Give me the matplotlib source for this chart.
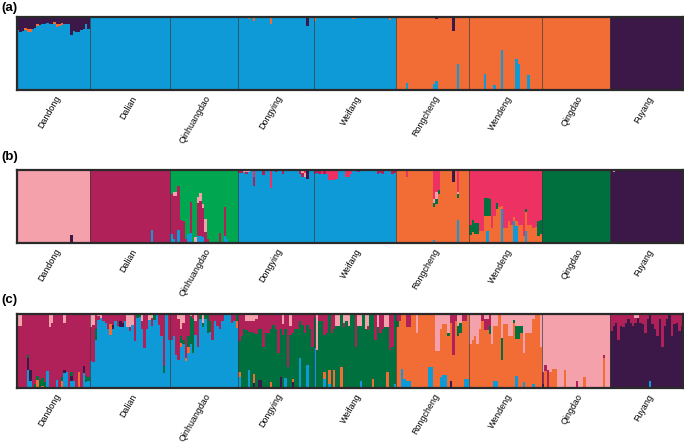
import numpy as np
import matplotlib
matplotlib.use("Agg")
import matplotlib.pyplot as plt

plt.rcParams['font.family'] = ['Liberation Sans', 'DejaVu Sans']

pops = ["Dandong", "Dalian", "Qinhuangdao", "Dongying", "Weifang",
        "Rongcheng", "Wendeng", "Qingdao", "Fuyang"]
n_ind = [30, 33, 28, 31, 34, 30, 30, 28, 30]

colors = {
    "B": "#0E9AD7",   # blue
    "O": "#F26C35",   # orange
    "P": "#3B1847",   # dark purple
    "LP": "#F4A1AC",  # light pink
    "M": "#B0215A",   # maroon
    "G": "#00A650",   # green
    "DG": "#00703E",  # dark green
    "HP": "#EE3163",  # hot pink
}

# ---------- panel (a), K = 3 ----------
order_a = ["B", "O", "P"]
main_a = ["B", "B", "B", "B", "B", "O", "O", "O", "P"]
mix_a = {
    "Dandong": {
        "P": [0.18, 0.21, 0.19, 0.15, 0.16, 0.17, 0.17, 0.15, 0.10, 0.11,
              0.10, 0.09, 0.08, 0.09, 0.10, 0.07, 0.10, 0.09, 0.08, 0.10,
              0.09, 0.10, 0.25, 0.19, 0.20, 0.20, 0.18, 0.16, 0.09, 0.16],
        "O": {3: .03, 4: .04, 5: .03, 8: .03, 15: .03, 16: .04, 17: .04, 18: .03},
    },
    "Dongying": {"O": {4: .03, 6: .06, 13: .10}, "P": {28: .13}},
    "Weifang": {"O": {0: .05, 10: .02, 16: .03, 24: .02, 31: .04}},
    "Rongcheng": {"B": {4: .09, 15: .08, 16: .13, 25: .35}, "P": {16: .03, 23: .19}},
    "Wendeng": {"B": {6: .22, 10: .07, 13: .55, 19: .42, 20: .35, 24: .2}},
}

# ---------- panel (b), K = 8 ----------
order_b = ["B", "O", "P", "DG", "M", "LP", "G", "HP"]
main_b = ["LP", "M", "G", "B", "B", "O", "HP", "DG", "P"]
mix_b = {
    "Dandong": {"P": {22: .11}},
    "Dalian": {"B": {25: .18}},
    "Qinhuangdao": {
        "B": {0: .12, 1: .05, 3: .18, 7: .13, 8: .14, 11: .1, 12: .1, 13: .08, 22: .09, 23: .06},
        "M": {0: .55, 1: .6, 2: .65, 3: .6, 4: .32, 5: .3, 6: .06, 8: .42, 11: .45,
              12: .48, 13: .4, 14: .15, 15: .05, 20: .14, 22: .4},
        "LP": {1: .05, 2: .05, 10: .08, 11: .08, 12: .1, 13: .06, 14: .18},
    },
    "Dongying": {
        "M": {0: .04, 1: .04, 3: .03, 6: .12, 10: .07, 15: .03, 18: .05, 21: .02, 25: .05, 26: .06},
        "LP": {2: .03, 3: .03, 4: .03, 26: .04, 27: .05},
        "HP": {6: .1, 13: .24, 27: .04},
        "P": {28: .12},
    },
    "Weifang": {
        "M": {0: .05, 1: .04, 2: .06, 4: .05, 18: .03, 26: .05, 27: .04, 28: .05, 32: .06, 33: .04},
        "HP": {3: .06, 5: .05, 6: .14, 7: .14, 8: .14, 9: .12, 13: .1, 14: .1, 15: .06},
    },
    "Rongcheng": {
        "B": {15: .04, 25: .32},
        "P": {23: .17},
        "DG": {15: .06, 16: .07, 17: .05, 25: .06},
        "LP": {15: .05, 16: .1, 25: .03},
        "HP": {4: .1, 15: .4, 16: .3, 17: .28, 25: .3},
    },
    "Wendeng": {
        "O": {0: .11, 1: .15, 2: .13, 3: .13, 4: .16, 5: .16, 6: .37, 7: .2, 8: .37, 9: .2,
              10: .37, 11: .46, 12: .5, 13: .05, 14: .2, 15: .2, 16: .3, 17: .25, 18: .05,
              19: .07, 20: .25, 21: .25, 22: .1, 23: .26, 24: .25, 25: .25, 26: .2,
              27: .22, 28: .1, 29: .12},
        "DG": {0: .14, 1: .16, 2: .14, 3: .14, 6: .25, 7: .25, 8: .23, 11: .09, 23: .05,
               28: .2, 29: .2},
        "B": {7: .17, 13: .46, 18: .3, 19: .23, 23: .16},
    },
    "Fuyang": {"LP": {1: .03}},
}

# ---------- panel (c), K = 6 ----------
order_c = ["B", "P", "O", "DG", "M", "LP"]
main_c = ["M", "B", "B", "DG", "DG", "O", "O", "LP", "P"]
mix_c = {
    "Dandong": {
        "LP": {0: .16, 1: .16, 13: .18, 14: .12, 19: .12},
        "B": {4: .24, 5: .1, 12: .23, 16: .11, 19: .2, 20: .22, 22: .1, 23: .1, 27: .2, 28: .08, 29: .1},
        "P": {4: .16, 5: .15, 19: .05, 22: .06, 27: .1},
        "DG": {4: .05, 7: .06, 8: .05, 9: .11, 10: .1, 11: .08, 18: .05, 22: .06, 28: .08, 29: .05},
        "O": {8: .11, 10: .03, 18: .1, 25: .22},
    },
    "Dalian": {
        "LP": {0: .18, 1: .15, 3: .03, 4: .05, 15: .18, 16: .18, 17: .15, 21: .1, 24: .08, 25: .06},
        "M": {0: .46, 1: .5, 2: .2, 3: .05, 5: .1, 6: .12, 7: .2, 8: .14, 9: .15, 10: .1,
              11: .16, 12: .1, 13: .12, 14: .1, 16: .05, 18: .37, 21: .1, 22: .46, 23: .2,
              25: .1, 28: .15, 29: .3, 30: .7, 32: .35},
        "DG": {2: .15, 19: .06, 20: .04, 26: .08, 30: .1},
        "O": {8: .14},
        "P": {9: .05, 12: .07, 13: .06},
    },
    "Qinhuangdao": {
        "M": {0: .35, 1: .3, 2: .55, 3: .55, 4: .1, 5: .23, 6: .6, 7: .3, 9: .07, 10: .2,
              11: .45, 16: .1, 17: .35, 18: .1, 19: .16, 20: .2, 21: .1, 25: .12, 26: .1},
        "LP": {3: .07, 4: .2, 5: .12, 8: .03, 10: .09, 13: .12},
        "DG": {4: .09, 5: .05, 7: .14, 8: .37, 9: .46, 12: .07, 13: .05, 14: .07, 15: .25,
               16: .14, 27: .1},
        "O": {4: .05, 6: .04, 7: .09, 27: .09},
    },
    "Dongying": {
        "M": {0: .37, 1: .3, 2: .2, 3: .12, 4: .15, 5: .15, 6: .16, 7: .2, 8: .2, 9: .2,
              10: .44, 11: .25, 12: .25, 13: .2, 14: .15, 15: .2, 16: .53, 17: .2, 18: .15,
              19: .2, 20: .71, 21: .12, 22: .25, 23: .2, 24: .2, 25: .1, 26: .15, 27: .25,
              28: .15, 29: .2, 30: .44},
        "LP": {3: .09, 4: .09, 5: .09, 6: .09, 7: .07, 18: .14, 21: .16},
        "B": {0: .15, 4: .24, 19: .13, 25: .4, 28: .31},
        "O": {0: .07, 6: .12, 13: .08, 22: .04},
        "P": {6: .07, 8: .11, 9: .11, 17: .15, 22: .08},
    },
    "Weifang": {
        "B": {0: .54, 4: .12, 6: .05, 19: .1, 33: .05},
        "LP": {1: .48, 9: .16, 10: .16, 12: .12, 13: .1, 14: .16, 18: .16, 19: .16, 21: .2,
               22: .16, 26: .18, 29: .18, 30: .18},
        "M": {0: .05, 2: .1, 3: .1, 4: .28, 5: .25, 7: .25, 8: .2, 12: .05, 17: .44, 22: .05,
              25: .35, 27: .25, 28: .2, 31: .48, 32: .45},
        "O": {4: .1, 6: .2, 8: .24, 11: .29, 24: .12, 30: .22},
    },
    "Rongcheng": {
        "DG": {0: .07, 21: .05, 25: .14, 26: .14},
        "M": {0: .1, 1: .1, 4: .18, 5: .18, 22: .12, 23: .55, 24: .1, 27: .1, 28: .1},
        "B": {2: .26, 3: .12, 4: .1, 5: .1, 13: .28, 14: .28, 18: .15, 19: .18, 20: .18,
              28: .12, 29: .12},
        "LP": {8: .25, 16: .5, 17: .5, 18: .2, 19: .14, 20: .14, 21: .25, 25: .16, 26: .12},
        "P": {22: .09},
    },
    "Wendeng": {
        "LP": {0: .4, 1: .35, 2: .3, 3: .4, 4: .2, 6: .07, 7: .07, 9: .4, 10: .16, 11: .16,
               13: .32, 14: .14, 15: .14, 16: .3, 17: .3, 18: .08, 19: .16, 20: .16, 21: .16,
               22: .53, 23: .25, 24: .25, 25: .25, 26: .07, 29: .45},
        "M": {5: .1, 6: .14, 7: .14, 8: .16},
        "DG": {8: .11, 13: .3, 18: .04, 19: .18, 20: .18, 21: .1},
        "B": {10: .1, 11: .1, 19: .16, 22: .08, 26: .06},
    },
    "Qingdao": {
        "M": {0: .16, 1: .08, 2: .24, 14: .1, 25: .05},
        "P": {0: .06},
        "O": {1: .23, 3: .22, 4: .26, 5: .26, 9: .24, 17: .15, 25: .4},
    },
    "Fuyang": {
        "M": {0: .23, 1: .16, 2: .12, 3: .35, 4: .16, 5: .18, 6: .12, 7: .07, 8: .12, 9: .16,
              10: .07, 12: .12, 13: .14, 14: .25, 15: .07, 17: .14, 18: .2, 19: .3, 20: .07,
              21: .44, 22: .16, 23: .07, 24: .02, 25: .3, 26: .14, 27: .12, 28: .23, 29: .16},
        "LP": {10: .05, 11: .06},
        "B": {16: .1},
    },
}


def build_q(order, main, mix):
    blocks = []
    for pop, n, dom in zip(pops, n_ind, main):
        q = np.zeros((n, len(order)))
        for cl, vals in mix.get(pop, {}).items():
            k = order.index(cl)
            if isinstance(vals, dict):
                for i, v in vals.items():
                    q[i, k] = v
            else:
                q[:, k] = vals
        q[:, order.index(dom)] = 1 - q.sum(axis=1)
        blocks.append(q)
    return np.vstack(blocks)


fig = plt.figure(figsize=(6.84, 4.43), dpi=100)
H = 443.0
panels = [("(a)", order_a, main_a, mix_a, 17, 90, 8),
          ("(b)", order_b, main_b, mix_b, 170, 243, 157),
          ("(c)", order_c, main_c, mix_c, 314, 388, 300)]

bounds = np.cumsum([0] + n_ind)
centers = (bounds[:-1] + bounds[1:]) / 2

for tag, order, main, mix, top, bot, ty in panels:
    ax = fig.add_axes([17 / 684, 1 - bot / H, 666 / 684, (bot - top) / H])
    q = build_q(order, main, mix)
    x = np.arange(q.shape[0])
    bottom = np.zeros(q.shape[0])
    for k, cl in enumerate(order):
        ax.bar(x, q[:, k], bottom=bottom, width=1.0, align='edge',
               color=colors[cl], linewidth=0, antialiased=False)
        bottom += q[:, k]
    for b in bounds[1:-1]:
        ax.axvline(b, color='#3a3a3a', lw=0.6, alpha=0.8)
    ax.set_xlim(0, bounds[-1])
    ax.set_ylim(0, 1)
    ax.set_yticks([])
    ax.set_xticks(centers + 0.3)
    ax.set_xticklabels(pops, rotation=60, ha='right', rotation_mode='anchor', fontsize=6.4)
    ax.tick_params(axis='x', length=0, pad=3)
    for s in ax.spines.values():
        s.set_linewidth(1.6)
        s.set_color('#2a2a2a')
    fig.text(1 / 684, 1 - ty / H, tag, fontsize=9.5, fontweight='bold', va='center', ha='left')

fig.savefig("out.png", dpi=100)
